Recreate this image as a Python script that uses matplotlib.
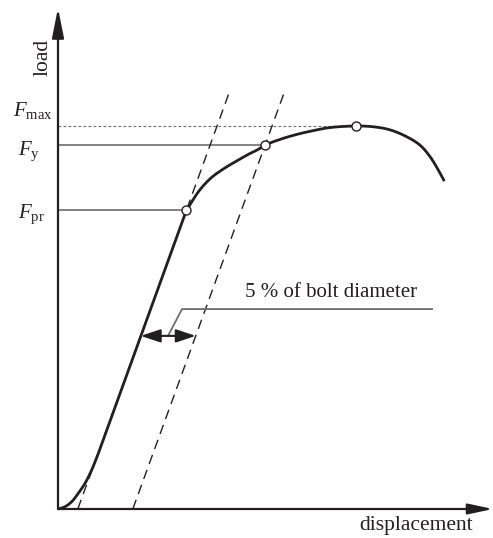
import matplotlib
matplotlib.use("Agg")
import matplotlib.pyplot as plt
import numpy as np

plt.rcParams["font.family"] = ["Liberation Serif", "DejaVu Serif"]
plt.rcParams["mathtext.fontset"] = "custom"
plt.rcParams["mathtext.rm"] = "Liberation Serif"
plt.rcParams["mathtext.it"] = "Liberation Serif:italic"

# Load-displacement curve of a bolted connection (displacement in mm, load in % of F_max)
# Initial toe and elastic branch
toe_disp = [0.0, 0.127, 0.249, 0.369, 0.491, 0.613, 0.733, 2.335]
toe_load = [0.0, 0.6, 1.9, 4.1, 6.7, 10.2, 14.5, 78.0]
# Plastic branch from F_pr through F_y and F_max to the end of the test
pl_disp = [2.335, 2.431, 2.551, 2.673, 2.795, 2.915, 3.096, 3.278, 3.46, 3.642, 3.764,
           4.036, 4.34, 4.642, 4.945, 5.418, 5.733, 6.036, 6.34, 6.582,
           6.764, 6.915, 7.024]
pl_load = [78.0, 80.2, 82.8, 84.9, 86.6, 87.9, 89.6, 91.1, 92.6, 93.9, 95.0,
           96.5, 97.8, 98.8, 99.6, 100.0, 99.8, 99.0, 97.2, 95.0,
           92.0, 88.5, 85.6]

# Characteristic points
F_pr, F_y, F_max = 78.0, 95.0, 100.0
d_pr, d_y, d_max = 2.335, 3.764, 5.418

# Initial stiffness line and its offset by 5 % of the bolt diameter
stiffness = 39.5
d0 = 0.36
offset = 1.0
line_top = 108.4

# Axis extents
x_min, x_max = -1.0545, 7.909
y_min, y_max = -7.572, 132.9
y_axis_top = 130.8
x_axis_end = 7.909

ink = "#231f20"
grey = "#6d6d6d"


def smooth_path(xs, ys, sx=55.0, sy=3.83, n=12):
    """Centripetal Catmull-Rom path through the given points."""
    p = np.column_stack([np.asarray(xs) * sx, np.asarray(ys) * sy])
    p = np.vstack([2 * p[0] - p[1], p, 2 * p[-1] - p[-2]])
    out = []
    for i in range(1, len(p) - 2):
        P0, P1, P2, P3 = p[i - 1], p[i], p[i + 1], p[i + 2]
        t0 = 0.0
        t1 = t0 + np.linalg.norm(P1 - P0) ** 0.5
        t2 = t1 + np.linalg.norm(P2 - P1) ** 0.5
        t3 = t2 + np.linalg.norm(P3 - P2) ** 0.5
        t = np.linspace(t1, t2, n, endpoint=False)[:, None]
        A1 = (t1 - t) / (t1 - t0) * P0 + (t - t0) / (t1 - t0) * P1
        A2 = (t2 - t) / (t2 - t1) * P1 + (t - t1) / (t2 - t1) * P2
        A3 = (t3 - t) / (t3 - t2) * P2 + (t - t2) / (t3 - t2) * P3
        B1 = (t2 - t) / (t2 - t0) * A1 + (t - t0) / (t2 - t0) * A2
        B2 = (t3 - t) / (t3 - t1) * A2 + (t - t1) / (t3 - t1) * A3
        C = (t2 - t) / (t2 - t1) * B1 + (t - t1) / (t2 - t1) * B2
        out.append(C)
    out.append(p[-2][None, :])
    c = np.vstack(out)
    return c[:, 0] / sx, c[:, 1] / sy


fig = plt.figure(figsize=(4.93, 5.38), dpi=100)
ax = fig.add_axes([0, 0, 1, 1])
ax.set_xlim(x_min, x_max)
ax.set_ylim(y_min, y_max)
ax.axis("off")

# Axes with arrow heads
ax.annotate("", xy=(0, y_axis_top), xytext=(0, 0),
            arrowprops=dict(arrowstyle="-|>,head_length=0.9,head_width=0.18",
                            mutation_scale=20, lw=1.6, color=ink,
                            shrinkA=0, shrinkB=0))
ax.annotate("", xy=(x_axis_end, 0), xytext=(0, 0),
            arrowprops=dict(arrowstyle="-|>,head_length=0.75,head_width=0.16",
                            mutation_scale=20, lw=1.6, color=ink,
                            shrinkA=0, shrinkB=0))

# Reference levels
ax.plot([0, d_max], [F_max, F_max], color=grey, lw=0.8, dashes=(2.5, 2.0))
ax.plot([0, d_y], [F_y, F_y], color=grey, lw=1.2)
ax.plot([0, d_pr], [F_pr, F_pr], color=grey, lw=1.2)

# Stiffness lines
ys = np.array([0.0, line_top])
ax.plot(d0 + ys / stiffness, ys, color=ink, lw=1.0, dashes=(7, 4.5))
ax.plot(d0 + offset + ys / stiffness, ys, color=ink, lw=1.0, dashes=(7, 4.5))

# Curve: smooth toe, straight elastic branch, smooth plastic branch
tx, ty = smooth_path(toe_disp[:-1], toe_load[:-1])
px, py = smooth_path(pl_disp, pl_load)
cx = np.concatenate([tx, px])
cy = np.concatenate([ty, py])
ax.plot(cx, cy, color=ink, lw=2.0, solid_capstyle="butt",
        solid_joinstyle="round", zorder=4)

# Characteristic points
ax.plot([d_pr, d_y, d_max], [F_pr, F_y, F_max], "o", ms=6.5,
        mfc="white", mec=ink, mew=1.0, zorder=5)

# 5 % offset dimension
y_dim = 45.2
ax.annotate("", xy=(d0 + offset + y_dim / stiffness, y_dim),
            xytext=(d0 + y_dim / stiffness, y_dim),
            arrowprops=dict(arrowstyle="<|-|>,head_length=0.6,head_width=0.2",
                            mutation_scale=20, lw=1.5, color=ink,
                            shrinkA=0, shrinkB=0))
ax.plot([2.0, 2.255, 6.8], [y_dim, 52.2, 52.2], color=grey, lw=1.3)
ax.text(3.4, 55.35, "5 % of bolt diameter", fontsize=15, color=ink,
        ha="left", va="baseline")

# Level labels
ax.text(-0.818, 102.6, r"$\mathit{F}_{\mathrm{max}}$", fontsize=15, color=ink,
        ha="left", va="baseline")
ax.text(-0.727, 92.4, r"$\mathit{F}_{\mathrm{y}}$", fontsize=15, color=ink,
        ha="left", va="baseline")
ax.text(-0.727, 76.0, r"$\mathit{F}_{\mathrm{pr}}$", fontsize=15, color=ink,
        ha="left", va="baseline")

# Axis titles
ax.text(-0.264, 118.0, "load", fontsize=15.5, color=ink, rotation=90,
        ha="center", va="center")
ax.text(6.51, -5.48, "displacement", fontsize=15.5, color=ink,
        ha="center", va="baseline")

fig.savefig("out.png", dpi=100)
